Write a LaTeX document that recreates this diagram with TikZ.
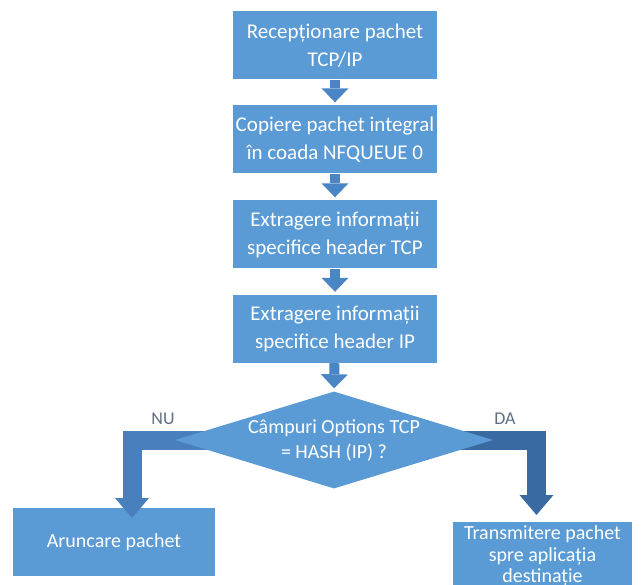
\documentclass[tikz,border=0pt]{standalone}
\usepackage{fontspec}
\setmainfont{Carlito}
\usetikzlibrary{arrows.meta,shapes.geometric}

\definecolor{boxblue}{HTML}{5B9BD5}
\definecolor{flowblue}{HTML}{4A86C5}
\definecolor{nublue}{HTML}{4A7FBE}
\definecolor{dablue}{HTML}{3A6AA2}
\definecolor{lblgray}{HTML}{5F6F82}

\begin{document}
\begin{tikzpicture}[x=1pt,y=-1pt,
  stepbox/.style={fill=boxblue, text=white, minimum width=204pt, minimum height=68pt,
    inner sep=0pt, align=center, font=\fontsize{21}{28}\selectfont},
  flow/.style={draw=flowblue, line width=10pt,
    -{Triangle[width=27pt,length=14pt,line width=0pt]}, shorten >=3pt},
  band/.style={line width=19pt, line join=miter,
    -{Triangle[width=34pt,length=20pt,line width=0pt]}},
  decision/.style={diamond, fill=boxblue, minimum width=318pt, minimum height=97pt, inner sep=0pt},
  dectext/.style={text=white, align=center, font=\fontsize{20}{25}\selectfont},
  branch/.style={text=lblgray, font=\fontsize{18}{20}\selectfont}
]
\useasboundingbox (0,0) rectangle (643,585);
\clip (0,0) rectangle (643,585);

% main column of processing steps
\node[stepbox] (b1) at (335,45.5) {Recepționare pachet\\TCP/IP};
\node[stepbox] (b2) at (335,139.5) {Copiere pachet integral\\în coada NFQUEUE 0};
\node[stepbox] (b3) at (335,234.5) {Extragere informații\\specifice header TCP};
\node[stepbox] (b4) at (335,329) {Extragere informații\\specifice header IP};

\draw[flow] (b1) -- (b2);
\draw[flow] (b2) -- (b3);
\draw[flow] (b3) -- (b4);

% outcomes
\node[stepbox, minimum width=202pt, font=\fontsize{20}{24}\selectfont] (drop) at (114,542) {Aruncare pachet};
\node[stepbox, minimum width=179pt, font=\fontsize{20}{21.5}\selectfont] (send) at (542.5,556)
  {Transmitere pachet\\spre aplicația\\destinație};

% branch arrows, passing underneath the decision
\coordinate (decc) at (334,440);
\coordinate (nutip) at (132,518);
\coordinate (datip) at (536.5,515);
\draw[band, draw=nublue] (decc) -| (nutip);
\draw[band, draw=dablue] (decc) -| (datip);

% decision
\node[decision] (dec) at (decc) {};
\node[dectext] (dect) at (dec) {Câmpuri Options TCP\\= HASH (IP) ?};
\draw[flow] (b4) -- (dec.north);

\node[branch] (nu) at (163,419) {NU};
\node[branch] (da) at (505,419) {DA};
\end{tikzpicture}
\end{document}
